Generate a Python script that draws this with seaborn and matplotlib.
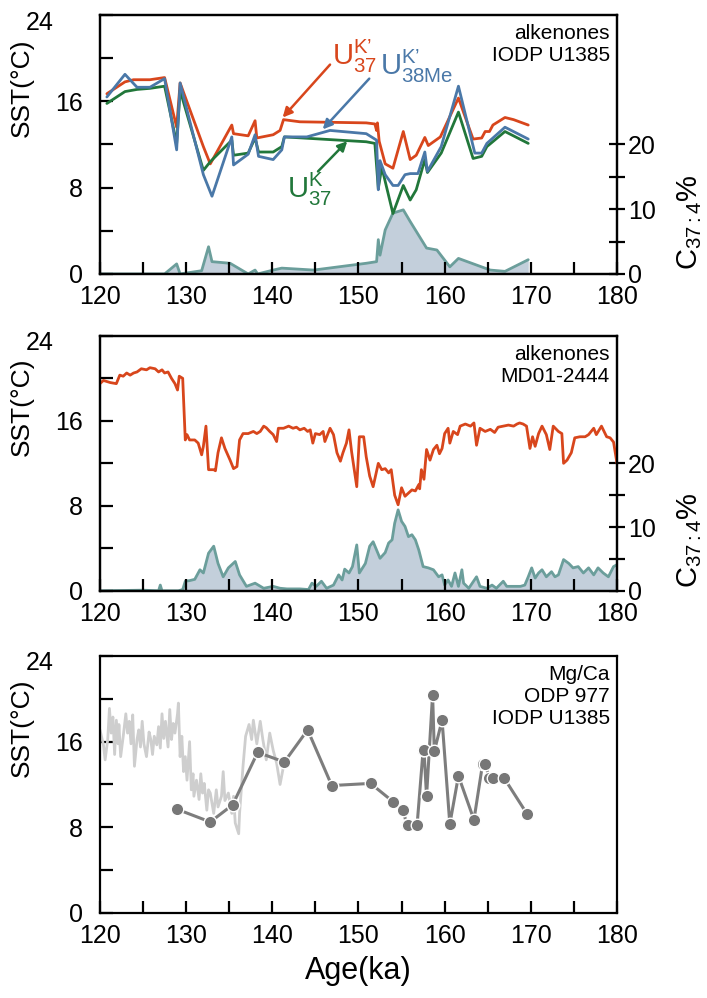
import seaborn as sns
import matplotlib.pyplot as plt
from matplotlib.ticker import MultipleLocator, FixedLocator, FuncFormatter
from matplotlib.transforms import blended_transform_factory

# ---- data: IODP U1385 alkenones (top panel) ----
u37k_prime_age = [120.8, 122.9, 123.9, 125.8, 127.5, 128.9, 129.3, 132.0, 132.8, 135.3, 135.5,
                  137.2, 138.0, 138.2, 140.1, 140.9, 141.3, 143.2, 150.9, 151.9, 152.1, 152.2,
                  152.4, 153.1, 154.0, 155.2, 156.0, 156.7, 157.7, 158.1, 159.5, 161.6, 163.3,
                  164.3, 164.7, 165.2, 165.6, 167.0, 168.0, 169.7]
u37k_prime_sst = [16.7, 17.8, 18.0, 18.0, 18.2, 13.6, 17.7, 11.8, 10.2, 13.8, 13.0,
                  12.8, 14.2, 12.6, 12.9, 13.3, 14.3, 14.1, 14.0, 13.9, 13.3, 14.0,
                  12.3, 10.2, 9.8, 13.2, 10.6, 11.0, 12.65, 11.9, 12.7, 16.3, 12.5,
                  12.6, 13.2, 13.2, 13.8, 14.5, 14.3, 13.8]

u38me_age = [120.8, 122.9, 124.3, 125.8, 127.5, 128.9, 129.3, 132.0, 133.0, 135.3, 135.5,
             137.2, 138.0, 138.4, 140.1, 141.1, 141.4, 144.0, 146.7, 150.9, 152.1, 152.3,
             152.5, 153.1, 154.0, 154.6, 155.4, 156.0, 156.9, 157.7, 158.0, 159.6, 161.6,
             163.5, 164.3, 164.9, 167.0, 169.7]
u38me_sst = [16.4, 18.5, 17.3, 17.3, 18.1, 11.5, 17.7, 9.2, 7.2, 12.7, 10.1,
             11.1, 12.9, 10.9, 10.6, 11.5, 12.7, 12.7, 13.3, 13.0, 12.4, 7.8,
             10.5, 9.2, 8.2, 8.2, 9.2, 9.3, 9.3, 11.3, 9.5, 11.8, 17.4,
             11.2, 11.2, 12.1, 13.6, 12.5]

u37k_age = [120.8, 122.9, 124.3, 125.8, 127.5, 128.9, 129.3, 132.0, 132.8, 135.3, 135.5,
            137.2, 138.0, 138.4, 140.1, 141.1, 141.4, 150.9, 151.9, 152.3, 152.7, 154.0,
            155.2, 156.0, 156.7, 157.7, 158.0, 159.6, 161.6, 163.3, 164.3, 164.9, 167.0,
            169.7]
u37k_sst = [15.8, 16.9, 17.1, 17.2, 17.4, 12.1, 17.0, 9.6, 10.4, 12.4, 11.0,
            11.2, 12.6, 11.3, 11.3, 11.8, 12.7, 12.25, 12.1, 7.9, 9.9, 5.6,
            8.2, 6.85, 7.8, 10.6, 9.4, 11.2, 15.0, 10.7, 10.9, 11.8, 13.2,
            12.1]

u1385_c374_age = [120.0, 127.5, 128.9, 129.3, 131.8, 132.6, 133.0, 135.1, 137.2, 138.0, 138.3,
                  140.1, 141.1, 144.8, 150.9, 152.1, 152.3, 152.5, 153.1, 154.0, 155.2, 156.0,
                  157.9, 159.1, 160.6, 161.6, 165.3, 167.0, 169.7]
u1385_c374 = [0, 0, 1.55, 0, 0.5, 4.2, 1.9, 1.65, 0, 0.6, 0,
              0.6, 0.9, 0.6, 1.65, 1.9, 5.3, 2.9, 6.8, 9.4, 9.9, 8.1,
              4.0, 3.7, 1.1, 2.4, 0.6, 0.4, 2.2]

# ---- data: MD01-2444 alkenones (middle panel) ----
md_age = [120.0, 120.4, 121.2, 121.9, 122.3, 122.7, 123.1, 123.5, 123.9, 124.3, 124.8, 125.4,
          125.8, 126.4, 126.8, 127.2, 127.5, 127.9, 128.3, 128.7, 129.0, 129.2, 129.6, 129.9,
          130.1, 130.4, 131.0, 131.4, 131.8, 132.0, 132.3, 132.6, 133.2, 133.4, 133.7, 134.1,
          134.5, 135.1, 135.5, 135.9, 136.2, 136.6, 137.2, 137.8, 138.2, 138.6, 139.0, 139.3,
          139.7, 140.1, 140.5, 140.7, 141.3, 141.9, 142.4, 142.8, 143.2, 143.7, 144.1, 144.4,
          144.7, 145.0, 145.5, 145.9, 146.1, 146.7, 147.1, 147.5, 147.9, 148.2, 148.6, 148.9,
          149.2, 149.8, 150.1, 150.6, 150.9, 151.3, 151.7, 152.3, 152.7, 153.1, 153.5, 153.8,
          154.2, 154.6, 155.0, 155.4, 155.8, 156.2, 156.6, 157.0, 157.1, 157.3, 157.6, 157.9,
          158.3, 158.7, 159.1, 159.4, 159.7, 160.0, 160.4, 160.6, 161.0, 161.5, 161.8, 162.4,
          163.0, 163.4, 163.7, 164.1, 164.7, 165.3, 165.8, 166.2, 166.8, 167.4, 168.0, 168.4,
          168.7, 169.1, 169.5, 169.9, 170.2, 170.5, 170.9, 171.3, 171.8, 172.2, 172.6, 173.2,
          173.6, 173.8, 174.2, 174.7, 175.1, 175.7, 176.3, 176.7, 177.3, 177.6, 178.2, 178.8,
          179.2, 179.6, 180.0]
md_sst = [19.5, 19.8, 19.6, 19.5, 20.3, 20.2, 20.5, 20.3, 20.5, 20.6, 20.9, 20.8,
          21.0, 20.9, 20.6, 20.8, 20.5, 20.6, 20.0, 19.5, 18.9, 20.2, 20.0, 14.2,
          14.7, 14.2, 14.2, 13.9, 12.8, 13.6, 15.5, 11.4, 11.4, 11.3, 13.0, 14.4,
          13.4, 12.3, 11.5, 11.7, 14.2, 14.8, 14.8, 15.0, 14.8, 15.0, 15.5, 15.35,
          15.0, 14.7, 14.05, 15.3, 15.3, 15.5, 15.3, 15.4, 15.15, 15.3, 15.0, 15.15,
          13.9, 14.8, 14.7, 15.0, 14.05, 15.3, 14.7, 13.0, 12.2, 13.0, 13.9, 15.15,
          13.1, 9.8, 14.5, 14.5, 12.6, 10.8, 9.8, 12.0, 11.4, 11.5, 11.1, 11.4,
          9.0, 8.1, 9.7, 8.9, 9.2, 9.5, 9.4, 10.0, 9.6, 11.4, 10.5, 13.3,
          12.3, 13.3, 13.7, 12.9, 13.4, 14.8, 15.3, 13.9, 15.0, 14.7, 15.5, 15.7,
          15.5, 15.8, 13.7, 15.3, 15.0, 15.2, 14.9, 15.4, 15.5, 15.6, 15.5, 15.7,
          15.8, 15.7, 15.5, 13.4, 14.5, 13.6, 14.8, 15.5, 14.7, 13.3, 15.5, 15.0,
          14.8, 12.0, 12.3, 13.0, 14.4, 14.5, 14.5, 14.7, 15.3, 14.7, 15.5, 14.5,
          14.4, 14.0, 12.0]

md_c374_age = [120.0, 125.0, 126.8, 127.0, 127.2, 129.1, 129.6, 129.9, 130.4, 131.0, 131.6, 132.0,
               132.6, 133.2, 133.7, 134.3, 134.9, 135.7, 136.2, 137.0, 138.0, 139.0, 140.1, 140.9,
               141.7, 143.2, 144.2, 144.6, 145.1, 145.7, 146.3, 147.1, 147.7, 148.1, 148.4, 148.9,
               149.3, 149.8, 150.1, 150.8, 151.3, 151.7, 152.1, 152.5, 153.1, 153.5, 153.9, 154.2,
               154.6, 155.0, 155.4, 155.8, 156.2, 156.6, 157.0, 157.5, 158.1, 158.7, 159.3, 159.7,
               160.0, 160.4, 160.8, 161.2, 161.6, 162.0, 162.2, 162.8, 163.7, 164.1, 164.9, 165.5,
               166.0, 166.8, 167.2, 168.0, 168.8, 169.3, 169.7, 170.1, 170.5, 170.9, 171.3, 171.8,
               172.4, 172.8, 173.2, 173.8, 174.4, 174.9, 175.5, 176.1, 176.7, 177.3, 177.8, 178.4,
               179.0, 179.6, 180.0]
md_c374 = [0, 0.1, 0, 0.9, 0, 0, 0.2, 1.5, 1.6, 1.8, 3.3, 2.8,
           5.9, 7.0, 4.3, 2.2, 3.6, 4.6, 2.5, 0.7, 1.2, 0.4, 0.7, 0.4,
           0.3, 0.3, 0.2, 1.2, 0.7, 1.5, 0.4, 0.9, 2.5, 1.7, 3.4, 2.8,
           3.8, 7.2, 2.8, 4.3, 7.0, 7.7, 6.4, 5.1, 6.0, 7.5, 8.0, 10.6,
           12.7, 10.9, 10.1, 8.5, 8.8, 8.0, 6.4, 3.8, 3.6, 3.3, 2.2, 2.5,
           0.9, 1.7, 0.7, 2.8, 0.7, 3.3, 1.2, 0.4, 2.2, 0.7, 0.4, 0.9,
           0.4, 1.5, 0.7, 0.7, 0.7, 0.9, 2.2, 3.6, 2.0, 2.8, 3.3, 2.2,
           3.0, 2.2, 2.5, 4.9, 4.3, 3.6, 3.8, 2.8, 3.6, 2.5, 3.6, 2.8,
           2.2, 3.8, 4.1]

# ---- data: Mg/Ca (bottom panel) ----
odp977_age = [120.0, 120.4, 120.6, 120.9, 121.1, 121.3, 121.5, 121.7, 121.9, 122.1, 122.2, 122.4,
              122.7, 123.0, 123.2, 123.4, 123.6, 123.8, 124.0, 124.3, 124.5, 124.7, 124.9, 125.1,
              125.4, 125.7, 125.9, 126.1, 126.3, 126.6, 126.8, 127.0, 127.2, 127.4, 127.6, 127.9,
              128.1, 128.3, 128.5, 128.7, 129.0, 129.1, 129.3, 129.5, 129.7, 129.9, 130.1, 130.4,
              130.6, 130.8, 130.9, 131.2, 131.5, 131.7, 131.9, 132.1, 132.4, 132.6, 132.8, 133.2,
              133.5, 133.7, 134.1, 134.3, 134.5, 134.9, 135.3, 135.5, 135.7, 136.1, 136.2, 136.6,
              136.9, 137.3, 137.6, 137.8, 138.2, 138.6, 138.9, 139.3, 139.7, 140.1, 140.5, 140.9,
              141.3]
odp977_sst = [17.1, 15.7, 14.3, 16.2, 19.1, 16.8, 18.3, 14.8, 18.0, 15.8, 17.6, 14.6,
              16.5, 18.6, 16.8, 17.9, 15.8, 18.5, 13.7, 16.2, 17.1, 15.5, 17.9, 15.8,
              14.6, 16.9, 16.2, 14.8, 16.5, 15.7, 17.4, 15.4, 18.6, 16.3, 17.9, 15.5,
              19.0, 16.2, 17.7, 16.8, 18.6, 19.6, 14.6, 16.5, 13.2, 14.6, 12.4, 16.0,
              11.5, 13.0, 10.9, 12.4, 10.6, 13.0, 11.2, 12.1, 9.6, 11.5, 11.2, 9.3,
              11.5, 9.9, 10.9, 13.2, 10.5, 11.2, 9.3, 10.9, 8.4, 7.4, 9.3, 13.7,
              16.5, 17.6, 16.2, 18.0, 15.8, 17.9, 16.2, 14.3, 16.8, 15.2, 14.0, 12.0,
              13.7]

u1385_mgca_age = [128.9, 132.8, 135.4, 138.3, 141.4, 144.1, 146.9, 151.4, 154.0, 155.2, 155.6,
                  155.8, 156.8, 157.5, 157.6, 157.9, 158.6, 158.8, 159.7, 160.6, 161.6, 163.4,
                  164.4, 164.7, 165.2, 165.6, 166.9, 169.6]
u1385_mgca_sst = [9.7, 8.5, 10.1, 15.0, 14.1, 17.1, 11.9, 12.1, 10.4, 9.6, 8.2,
                  8.2, 8.2, 15.2, 15.2, 10.9, 20.4, 15.1, 18.0, 8.3, 12.8, 8.7,
                  13.9, 13.9, 12.6, 12.6, 12.6, 9.2]

RED = "#d8461c"
BLUE = "#4a78a8"
GREEN = "#21773a"
TEAL = "#6b9e9b"
FILL = "#c3cfdb"

sns.set_theme(style="ticks")
plt.rcParams["font.family"] = ["Liberation Sans", "DejaVu Sans"]
plt.rcParams["mathtext.fontset"] = "custom"
plt.rcParams["mathtext.rm"] = "Liberation Sans"
plt.rcParams["mathtext.it"] = "Liberation Sans:italic"
plt.rcParams["mathtext.default"] = "rm"
plt.rcParams["axes.linewidth"] = 1.6
for key in ["text.color", "axes.labelcolor", "xtick.color", "ytick.color", "axes.edgecolor"]:
    plt.rcParams[key] = "black"

fig = plt.figure(figsize=(7.07, 9.98), dpi=100)
ax_top = fig.add_axes([0.1414, 0.7255, 0.7313, 0.2595])
ax_mid = fig.add_axes([0.1414, 0.408, 0.7313, 0.2555])
ax_bot = fig.add_axes([0.1414, 0.0852, 0.7313, 0.2575])


def style_sst_axis(ax):
    ax.set_xlim(120, 180)
    ax.set_ylim(0, 24)
    ax.xaxis.set_major_locator(MultipleLocator(5))
    ax.xaxis.set_major_formatter(FuncFormatter(lambda v, _: f"{v:.0f}" if v % 10 == 0 else ""))
    ax.yaxis.set_major_locator(MultipleLocator(4))
    ax.yaxis.set_major_formatter(FuncFormatter(lambda v, _: f"{v:.0f}" if v % 8 == 0 and v < 24 else ""))
    ax.tick_params(axis="both", direction="in", length=9, width=1.6, labelsize=18)
    ax.tick_params(axis="y", pad=12, left=True, right=False)
    ax.tick_params(axis="x", pad=8, top=False)
    ax.set_xlabel("")
    ax.set_ylabel("SST(°C)", fontsize=19)
    ax.yaxis.set_label_coords(-0.128, 0.72)
    # the "24" label sits further out than the others in the original
    ax.text(-0.09, 23.3, "24", transform=blended_transform_factory(ax.transAxes, ax.transData),
            ha="right", va="center", fontsize=18)
    for s in ax.spines.values():
        s.set_linewidth(1.6)


def add_c374_axis(ax, age, pct):
    ax2 = ax.twinx()
    ax2.fill_between(age, pct, color=FILL, lw=0)
    sns.lineplot(x=age, y=pct, ax=ax2, color=TEAL, linewidth=2, estimator=None, sort=False)
    ax2.set_ylim(0, 40)
    ax2.set_xlim(120, 180)
    ax2.yaxis.set_major_locator(FixedLocator([0, 5, 10, 15, 20]))
    ax2.yaxis.set_major_formatter(FuncFormatter(lambda v, _: f"{v:.0f}" if v % 10 == 0 else ""))
    ax2.tick_params(axis="y", direction="inout", length=12, width=1.6, labelsize=18, pad=2)
    ax2.set_ylabel("C$_{37:4}$%", fontsize=21, rotation=90)
    ax2.yaxis.set_label_coords(1.112, 0.2)
    for s in ax2.spines.values():
        s.set_linewidth(1.6)
    ax.set_zorder(ax2.get_zorder() + 1)
    ax.patch.set_visible(False)
    return ax2


# ---- top panel ----
add_c374_axis(ax_top, u1385_c374_age, u1385_c374)
sns.lineplot(x=u37k_prime_age, y=u37k_prime_sst, ax=ax_top, color=RED, linewidth=2, estimator=None, sort=False)
sns.lineplot(x=u37k_age, y=u37k_sst, ax=ax_top, color=GREEN, linewidth=2, estimator=None, sort=False)
sns.lineplot(x=u38me_age, y=u38me_sst, ax=ax_top, color=BLUE, linewidth=2, estimator=None, sort=False)
style_sst_axis(ax_top)
ax_top.text(0.986, 0.965, "alkenones\nIODP U1385", transform=ax_top.transAxes, ha="right", va="top",
            fontsize=15, linespacing=1.2)

arrow = dict(arrowstyle="-|>", lw=1.8, mutation_scale=14, shrinkA=0, shrinkB=0)
ax_top.annotate("", xy=(141.2, 14.5), xytext=(146.7, 19.4), arrowprops=dict(arrow, color=RED))
ax_top.annotate("", xy=(145.85, 13.4), xytext=(151.25, 18.1), arrowprops=dict(arrow, color=BLUE))
ax_top.annotate("", xy=(148.7, 12.3), xytext=(145.3, 9.5), arrowprops=dict(arrow, color=GREEN))
ax_top.text(146.9, 19.37, "U$^{K’}_{37}$", color=RED, fontsize=21, ha="left", va="baseline")
ax_top.text(152.5, 18.4, "U$^{K’}_{38Me}$", color=BLUE, fontsize=21, ha="left", va="baseline")
ax_top.text(141.7, 7.0, "U$^{K}_{37}$", color=GREEN, fontsize=21, ha="left", va="baseline")

# ---- middle panel ----
add_c374_axis(ax_mid, md_c374_age, md_c374)
sns.lineplot(x=md_age, y=md_sst, ax=ax_mid, color=RED, linewidth=2, estimator=None, sort=False)
style_sst_axis(ax_mid)
ax_mid.text(0.986, 0.965, "alkenones\nMD01-2444", transform=ax_mid.transAxes, ha="right", va="top",
            fontsize=15, linespacing=1.2)

# ---- bottom panel ----
sns.lineplot(x=odp977_age, y=odp977_sst, ax=ax_bot, color="#cecece", linewidth=2, estimator=None, sort=False)
sns.lineplot(x=u1385_mgca_age, y=u1385_mgca_sst, ax=ax_bot, color="#7d7d7d", linewidth=2.2,
             marker="o", markersize=9, markerfacecolor="#777777", markeredgecolor="white",
             markeredgewidth=1, estimator=None, sort=False)
style_sst_axis(ax_bot)
ax_bot.set_xlabel("Age(ka)", fontsize=22, labelpad=6)
ax_bot.text(0.986, 0.965, "Mg/Ca\nODP 977\nIODP U1385", transform=ax_bot.transAxes, ha="right", va="top",
            fontsize=15, linespacing=1.2)

fig.savefig("out.png", dpi=100)
